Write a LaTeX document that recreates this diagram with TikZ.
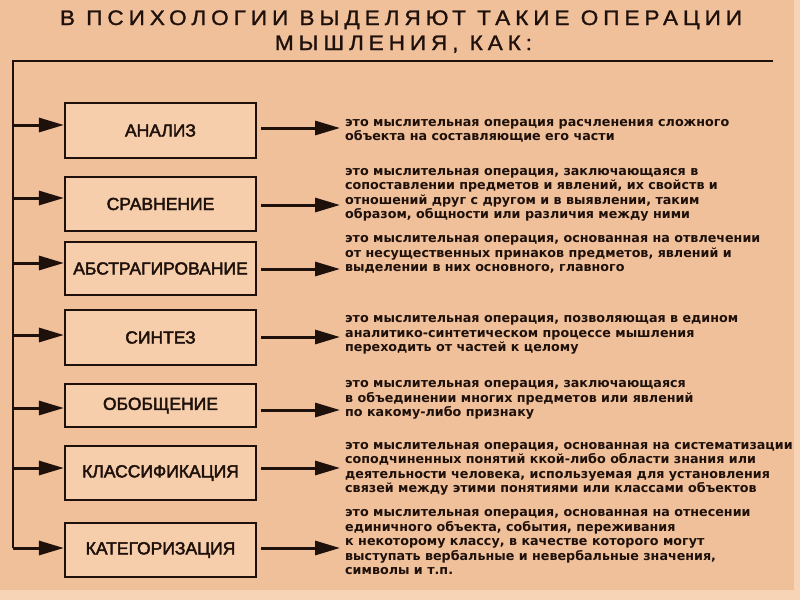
\documentclass[tikz,border=0pt]{standalone}
\usepackage{fontspec}
\setmainfont{DejaVu Sans}
\newfontfamily\titlefont[LetterSpace=22,FakeBold=1.2]{Liberation Sans}
\newfontfamily\boxfont[FakeBold=2.4]{Liberation Sans}
\newfontfamily\descfont{DejaVu Sans}
\usetikzlibrary{arrows.meta,calc}
\definecolor{bg}{RGB}{240,192,154}
\definecolor{boxfill}{RGB}{246,206,172}
\definecolor{strip}{RGB}{247,212,182}
\definecolor{ink}{RGB}{30,16,10}
\begin{document}
\begin{tikzpicture}[x=1pt,y=-1pt,
  opbox/.style={draw=ink,line width=2.2pt,fill=boxfill,minimum width=191pt,inner sep=0pt,
    font=\boxfont\fontsize{17.5}{20}\selectfont,text=ink},
  desc/.style={anchor=base west,inner sep=0pt,align=left,
    font=\descfont\bfseries\fontsize{12.7}{14.5}\selectfont,text=ink},
  ttl/.style={anchor=base,inner sep=0pt,font=\titlefont\fontsize{21}{25}\selectfont,text=ink},
  trunk/.style={draw=ink,line width=2.6pt},
  arr/.style={draw=ink,line width=3pt,-{Triangle[length=25pt,width=14pt]}},
]
\useasboundingbox (0,0) rectangle (800,600);
\fill[bg] (0,0) rectangle (800,600);
\fill[strip] (0,590) rectangle (800,600);
\fill[strip] (794,0) rectangle (800,600);

% title
\node[ttl] (t1) at (401,25) {\resizebox{682pt}{\height}{В ПСИХОЛОГИИ ВЫДЕЛЯЮТ ТАКИЕ ОПЕРАЦИИ}};
\node[ttl] (t2) at (403.5,50) {\resizebox{257pt}{\height}{МЫШЛЕНИЯ, КАК:}};

% boxes
\node[opbox,minimum height=55pt] (b1) at (160.5,130.5) {АНАЛИЗ};
\node[opbox,minimum height=54pt] (b2) at (160.5,204) {СРАВНЕНИЕ};
\node[opbox,minimum height=53pt] (b3) at (160.5,268.5) {АБСТРАГИРОВАНИЕ};
\node[opbox,minimum height=55pt] (b4) at (160.5,337.5) {СИНТЕЗ};
\node[opbox,minimum height=43pt] (b5) at (160.5,405.5) {ОБОБЩЕНИЕ};
\node[opbox,minimum height=54pt] (b6) at (160.5,473) {КЛАССИФИКАЦИЯ};
\node[opbox,minimum height=54pt] (b7) at (160.5,550) {КАТЕГОРИЗАЦИЯ};

% descriptions (anchored at the baseline of their last line)
\node[desc] (d1) at (345,140.5) {это мыслительная операция расчленения сложного\\объекта на составляющие его части};
\node[desc] (d2) at (345,218.5) {это мыслительная операция, заключающаяся в\\сопоставлении предметов и явлений, их свойств и\\отношений друг с другом и в выявлении, таким\\образом, общности или различия между ними};
\node[desc] (d3) at (345,271.5) {это мыслительная операция, основанная на отвлечении\\от несущественных принаков предметов, явлений и\\выделении в них основного, главного};
\node[desc] (d4) at (345,351.5) {это мыслительная операция, позволяющая в едином\\аналитико-синтетическом процессе мышления\\переходить от частей к целому};
\node[desc] (d5) at (345,416.5) {это мыслительная операция, заключающаяся\\в объединении многих предметов или явлений\\по какому-либо признаку};
\node[desc] (d6) at (345,492.5) {это мыслительная операция, основанная на систематизации\\соподчиненных понятий ккой-либо области знания или\\деятельности человека, используемая для установления\\связей между этими понятиями или классами объектов};
\node[desc] (d7) at (345,574.5) {это мыслительная операция, основанная на отнесении\\единичного объекта, события, переживания\\к некоторому классу, в качестве которого могут\\выступать вербальные и невербальные значения,\\символы и т.п.};

% trunk
\coordinate (tl) at (13,61);
\coordinate (tr) at (773,61);
\coordinate (L1) at ([yshift=5.5pt]b1.west);
\coordinate (L2) at ([yshift=6pt]b2.west);
\coordinate (L3) at ([yshift=5.5pt]b3.west);
\coordinate (L4) at ([yshift=2.5pt]b4.west);
\coordinate (L5) at ([yshift=-2.5pt]b5.west);
\coordinate (L6) at ([yshift=5pt]b6.west);
\coordinate (L7) at ([yshift=2pt]b7.west);
\draw[trunk] (tr) -- (tl) -- (tl |- L7);
\foreach \i in {1,...,6} \draw[arr] (tl |- L\i) -- (L\i);
\draw[arr] (tl |- L7) -- (L7);

% right arrows
\coordinate (R1) at ([xshift=4pt,yshift=2.5pt]b1.east);
\coordinate (R2) at ([xshift=4pt,yshift=-1pt]b2.east);
\coordinate (R3) at ([xshift=4pt,yshift=-0.5pt]b3.east);
\coordinate (R4) at ([xshift=4pt,yshift=0.5pt]b4.east);
\coordinate (R5) at ([xshift=4pt,yshift=-4.5pt]b5.east);
\coordinate (R6) at ([xshift=4pt,yshift=5pt]b6.east);
\coordinate (R7) at ([xshift=4pt,yshift=2pt]b7.east);
\foreach \i in {1,...,7} \draw[arr,shorten >=5pt] (R\i) -- (R\i -| d\i.west);
\end{tikzpicture}
\end{document}
